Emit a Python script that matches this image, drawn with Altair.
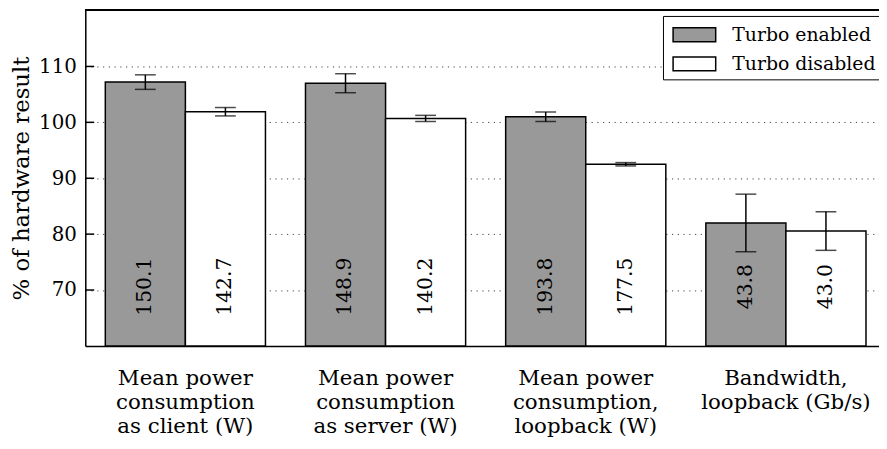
import altair as alt
import pandas as pd

categories = [
    "Mean power\nconsumption\nas client (W)",
    "Mean power\nconsumption\nas server (W)",
    "Mean power\nconsumption,\nloopback (W)",
    "Bandwidth,\nloopback (Gb/s)",
]
series = ["Turbo enabled", "Turbo disabled"]
enabled = [107.2, 107.0, 101.0, 82.0]
enabled_err = [1.3, 1.7, 0.85, 5.15]
disabled = [101.9, 100.7, 92.5, 80.55]
disabled_err = [0.75, 0.55, 0.3, 3.45]
enabled_labels = ["150.1", "148.9", "193.8", "43.8"]
disabled_labels = ["142.7", "140.2", "177.5", "43.0"]
y_ticks = [70, 80, 90, 100, 110]

rows = []
for i in range(len(categories)):
    rows.append(dict(idx=i, series=series[0], value=enabled[i], err=enabled_err[i], lab=enabled_labels[i]))
    rows.append(dict(idx=i, series=series[1], value=disabled[i], err=disabled_err[i], lab=disabled_labels[i]))
df = pd.DataFrame(rows)
cat_df = pd.DataFrame({"idx": list(range(len(categories))), "cat": categories})
tick_df = pd.DataFrame({"t": y_ticks})

FONT = "DejaVu Serif"
W, H = 801, 339
xscale = alt.Scale(domain=[-0.5, 3.465], nice=False, zero=False)
yscale = alt.Scale(domain=[60, 120.1], nice=False, zero=False)

base = alt.Chart(df).transform_calculate(
    x0="datum.series == 'Turbo enabled' ? datum.idx - 0.4 : datum.idx",
).transform_calculate(
    x1="datum.x0 + 0.4", xc="datum.x0 + 0.2",
    lo="datum.value - datum.err", hi="datum.value + datum.err",
)

bars = base.mark_bar(stroke="black", strokeWidth=1.5).encode(
    x=alt.X("x0:Q", scale=xscale,
            axis=alt.Axis(labels=False, ticks=False, grid=False, domain=True,
                          domainColor="black", domainWidth=1.5, title=None)),
    x2="x1:Q",
    y=alt.Y("value:Q", scale=yscale,
            axis=alt.Axis(values=y_ticks, ticks=False, grid=True, gridDash=[1.2, 4.6],
                          gridColor="#444", gridWidth=1, domainColor="black", domainWidth=1.5,
                          labelFont=FONT, labelFontSize=20, labelColor="black", labelPadding=9,
                          title="% of hardware result", titleFont=FONT, titleFontSize=23,
                          titleFontWeight="normal", titleColor="black", titlePadding=5)),
    y2=alt.datum(60),
    fill=alt.Fill("series:N", scale=alt.Scale(domain=series, range=["#999999", "#ffffff"]),
                  legend=alt.Legend(title=None, orient="none", legendX=583, legendY=6,
                                    fillColor="white", strokeColor="black", padding=5.5,
                                    symbolType="M-1.748,-0.569H1.748V0.569H-1.748Z", symbolSize=605,
                                    symbolStrokeColor="black", symbolStrokeWidth=1.5,
                                    symbolOffset=12.7,
                                    labelFont=FONT, labelFontSize=19, labelColor="black",
                                    labelOffset=24.7, rowPadding=5.4)),
)

err = base.mark_rule(color="black", strokeWidth=1.5).encode(
    x="xc:Q", y="lo:Q", y2="hi:Q")
caps_lo = base.mark_tick(color="black", orient="horizontal", size=21, thickness=1.5).encode(
    x="xc:Q", y="lo:Q")
caps_hi = base.mark_tick(color="black", orient="horizontal", size=21, thickness=1.5).encode(
    x="xc:Q", y="hi:Q")

labels = base.mark_text(angle=270, font=FONT, fontSize=20.5, color="black",
                        align="center", baseline="middle").encode(
    x="xc:Q", y=alt.datum(70.6), text="lab:N")

yticks = alt.Chart(tick_df).mark_rule(color="black", strokeWidth=1.5).encode(
    y=alt.Y("t:Q", scale=yscale), x=alt.value(0), x2=alt.value(9))

topline = alt.Chart(tick_df).mark_rule(color="black", strokeWidth=1.5).encode(
    x=alt.value(0), x2=alt.value(W), y=alt.value(0))

xlabels = alt.Chart(cat_df).mark_text(font=FONT, fontSize=21.5, color="black", align="center",
                                      baseline="alphabetic", lineBreak="\n", lineHeight=24).encode(
    x=alt.X("idx:Q", scale=xscale), y=alt.value(378.7), text="cat:N")

chart = alt.layer(bars, err, caps_lo, caps_hi, labels, yticks, topline, xlabels).properties(
    width=W, height=H,
    autosize=alt.AutoSizeParams(type="none"),
    padding={"left": 78, "top": 0, "right": 0, "bottom": 100},
).configure_view(stroke=None).configure(background="white")

chart.save("out.html", embed_options={"renderer": "svg", "actions": False})
